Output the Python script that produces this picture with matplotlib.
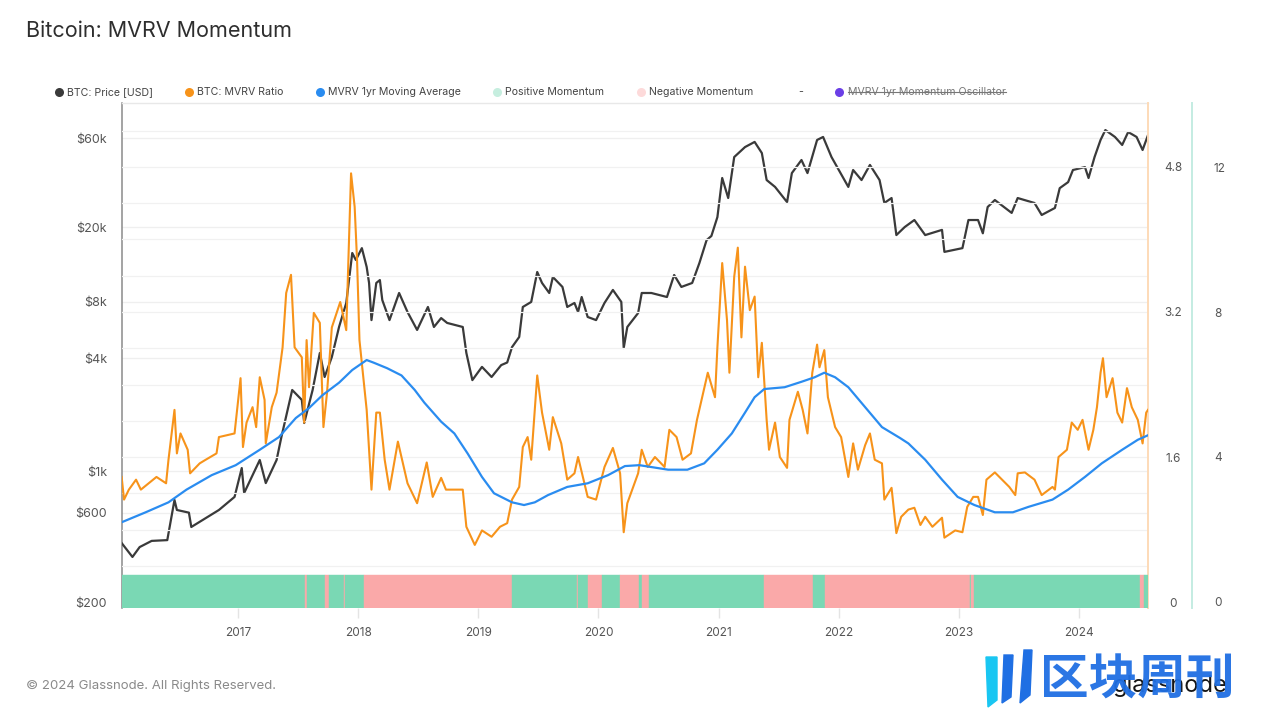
import matplotlib.pyplot as plt
from matplotlib.lines import Line2D
from matplotlib.patches import Polygon
from matplotlib.ticker import MultipleLocator, NullLocator

plt.rcParams['font.family'] = ['Inter', 'DejaVu Sans']

# --- data (x = decimal year) ---
price_t = [2016.03, 2016.12, 2016.18, 2016.28, 2016.41, 2016.47, 2016.49, 2016.59, 2016.61, 2016.73,
           2016.84, 2016.97, 2017.03, 2017.05, 2017.18, 2017.23, 2017.32, 2017.36, 2017.45, 2017.53,
           2017.55, 2017.62, 2017.68, 2017.72, 2017.78, 2017.84, 2017.90, 2017.95, 2017.98, 2018.03,
           2018.07, 2018.09, 2018.11, 2018.15, 2018.18, 2018.20, 2018.26, 2018.34, 2018.41, 2018.49,
           2018.58, 2018.63, 2018.69, 2018.74, 2018.87, 2018.90, 2018.95, 2019.03, 2019.11, 2019.19,
           2019.24, 2019.28, 2019.34, 2019.37, 2019.44, 2019.49, 2019.53, 2019.59, 2019.62, 2019.70,
           2019.74, 2019.80, 2019.83, 2019.86, 2019.91, 2019.98, 2020.05, 2020.12, 2020.19, 2020.21,
           2020.24, 2020.33, 2020.36, 2020.44, 2020.57, 2020.63, 2020.69, 2020.78, 2020.84, 2020.90,
           2020.94, 2020.99, 2021.03, 2021.08, 2021.13, 2021.22, 2021.30, 2021.36, 2021.40, 2021.47,
           2021.57, 2021.61, 2021.69, 2021.74, 2021.82, 2021.87, 2021.94, 2022.08, 2022.12, 2022.19,
           2022.26, 2022.34, 2022.38, 2022.44, 2022.48, 2022.55, 2022.63, 2022.72, 2022.86, 2022.88,
           2023.03, 2023.08, 2023.16, 2023.20, 2023.24, 2023.30, 2023.44, 2023.49, 2023.63, 2023.69,
           2023.80, 2023.84, 2023.91, 2023.95, 2024.05, 2024.08, 2024.13, 2024.18, 2024.22, 2024.30,
           2024.36, 2024.41, 2024.48, 2024.53, 2024.575]
price = [413, 348, 393, 424, 428, 701, 620, 600, 503, 561,
         620, 728, 1038, 764, 1146, 863, 1146, 1520, 2710, 2400,
         1806, 2710, 4270, 3180, 4065, 5880, 7900, 14600, 13400, 15500,
         12300, 10100, 6400, 10100, 10470, 8190, 6400, 8930, 7070, 5670,
         7520, 5880, 6560, 6180, 5880, 4270, 3060, 3600, 3180, 3680,
         3800, 4590, 5200, 7520, 8000, 11560, 10100, 8930, 10870, 9620,
         7520, 7900, 7070, 8500, 6650, 6400, 7900, 9270, 8000, 4540,
         5880, 6980, 8930, 8930, 8500, 11140, 9620, 10100, 12900, 17100,
         18000, 22700, 36700, 28700, 47500, 53700, 57200, 49900, 35800, 32900,
         27300, 39000, 45800, 39000, 58600, 60800, 47500, 32900, 40500, 35800,
         43100, 35800, 27000, 28700, 18200, 20100, 21900, 18200, 19400, 14800,
         15500, 21900, 21900, 18600, 25700, 28000, 23900, 28700, 27000, 23300,
         25400, 32400, 34900, 40500, 42000, 36700, 47500, 58600, 66200, 60800,
         55100, 64600, 60800, 51800, 62200]

mvrv_t = [2016.03, 2016.05, 2016.09, 2016.15, 2016.19, 2016.32, 2016.40, 2016.42, 2016.47, 2016.49,
          2016.52, 2016.58, 2016.60, 2016.68, 2016.73, 2016.82, 2016.84, 2016.97, 2017.02, 2017.04,
          2017.07, 2017.12, 2017.15, 2017.18, 2017.22, 2017.23, 2017.28, 2017.32, 2017.37, 2017.40,
          2017.44, 2017.47, 2017.53, 2017.55, 2017.57, 2017.59, 2017.63, 2017.68, 2017.71, 2017.74,
          2017.78, 2017.85, 2017.90, 2017.94, 2017.97, 2017.99, 2018.01, 2018.07, 2018.11, 2018.15,
          2018.18, 2018.22, 2018.26, 2018.33, 2018.41, 2018.49, 2018.57, 2018.62, 2018.69, 2018.73,
          2018.87, 2018.90, 2018.97, 2019.03, 2019.11, 2019.18, 2019.24, 2019.28, 2019.34, 2019.37,
          2019.41, 2019.44, 2019.49, 2019.53, 2019.59, 2019.62, 2019.69, 2019.74, 2019.80, 2019.83,
          2019.91, 2019.98, 2020.05, 2020.12, 2020.18, 2020.21, 2020.24, 2020.33, 2020.36, 2020.41,
          2020.47, 2020.55, 2020.59, 2020.65, 2020.70, 2020.77, 2020.82, 2020.91, 2020.97, 2020.99,
          2021.03, 2021.07, 2021.09, 2021.13, 2021.16, 2021.19, 2021.22, 2021.26, 2021.30, 2021.33,
          2021.36, 2021.40, 2021.42, 2021.47, 2021.51, 2021.57, 2021.59, 2021.66, 2021.70, 2021.74,
          2021.78, 2021.82, 2021.84, 2021.88, 2021.91, 2021.97, 2022.02, 2022.08, 2022.12, 2022.16,
          2022.22, 2022.26, 2022.30, 2022.36, 2022.38, 2022.44, 2022.48, 2022.52, 2022.58, 2022.63,
          2022.68, 2022.72, 2022.78, 2022.86, 2022.88, 2022.97, 2023.03, 2023.07, 2023.12, 2023.16,
          2023.20, 2023.23, 2023.30, 2023.36, 2023.42, 2023.47, 2023.49, 2023.55, 2023.63, 2023.69,
          2023.78, 2023.80, 2023.83, 2023.90, 2023.94, 2023.99, 2024.03, 2024.08, 2024.12, 2024.15,
          2024.18, 2024.20, 2024.23, 2024.28, 2024.32, 2024.36, 2024.40, 2024.44, 2024.49, 2024.53,
          2024.56, 2024.575]
mvrv = [1.38, 1.13, 1.24, 1.35, 1.24, 1.38, 1.31, 1.57, 2.12, 1.64,
        1.86, 1.68, 1.42, 1.53, 1.57, 1.64, 1.82, 1.86, 2.47, 1.71,
        1.98, 2.15, 1.93, 2.48, 2.23, 1.75, 2.15, 2.31, 2.81, 3.41,
        3.61, 2.81, 2.70, 1.98, 2.89, 2.37, 3.19, 3.08, 1.93, 2.31,
        3.03, 3.31, 3.00, 4.73, 4.36, 3.77, 2.89, 2.12, 1.24, 2.09,
        2.09, 1.57, 1.24, 1.77, 1.31, 1.09, 1.54, 1.16, 1.37, 1.24,
        1.24, 0.83, 0.63, 0.79, 0.72, 0.83, 0.87, 1.13, 1.27, 1.71,
        1.82, 1.57, 2.50, 2.09, 1.68, 2.04, 1.75, 1.35, 1.42, 1.60,
        1.16, 1.13, 1.49, 1.70, 1.42, 0.77, 1.09, 1.42, 1.68, 1.49,
        1.60, 1.49, 1.90, 1.82, 1.57, 1.64, 2.01, 2.53, 2.26, 2.81,
        3.74, 3.11, 2.53, 3.59, 3.91, 2.92, 3.70, 3.22, 3.37, 2.48,
        2.86, 2.01, 1.68, 1.98, 1.60, 1.48, 2.01, 2.32, 2.12, 1.86,
        2.53, 2.84, 2.59, 2.78, 2.26, 1.93, 1.82, 1.38, 1.75, 1.46,
        1.73, 1.86, 1.57, 1.53, 1.13, 1.26, 0.76, 0.94, 1.02, 1.04,
        0.85, 0.94, 0.83, 0.93, 0.71, 0.79, 0.77, 1.05, 1.16, 1.16,
        0.96, 1.35, 1.43, 1.35, 1.27, 1.18, 1.42, 1.43, 1.35, 1.18,
        1.27, 1.24, 1.60, 1.68, 1.98, 1.90, 2.01, 1.68, 1.90, 2.15,
        2.53, 2.69, 2.26, 2.47, 2.09, 1.98, 2.36, 2.15, 2.01, 1.75,
        2.09, 2.12]

ma_t = [2016.03, 2016.23, 2016.42, 2016.57, 2016.78, 2016.98, 2017.18, 2017.34, 2017.48, 2017.59,
        2017.70, 2017.84, 2017.95, 2018.07, 2018.13, 2018.24, 2018.36, 2018.47, 2018.55, 2018.69,
        2018.80, 2018.91, 2019.03, 2019.13, 2019.28, 2019.38, 2019.47, 2019.58, 2019.74, 2019.91,
        2020.08, 2020.22, 2020.34, 2020.58, 2020.74, 2020.88, 2020.99, 2021.11, 2021.22, 2021.30,
        2021.38, 2021.55, 2021.69, 2021.80, 2021.88, 2021.97, 2022.08, 2022.22, 2022.36, 2022.51,
        2022.58, 2022.72, 2022.86, 2022.99, 2023.13, 2023.30, 2023.45, 2023.58, 2023.78, 2023.91,
        2024.05, 2024.19, 2024.36, 2024.49, 2024.575]
mvrv_ma = [0.88, 0.99, 1.10, 1.24, 1.40, 1.51, 1.68, 1.82, 2.03, 2.14,
           2.28, 2.42, 2.56, 2.67, 2.64, 2.58, 2.50, 2.34, 2.20, 1.99,
           1.86, 1.64, 1.38, 1.20, 1.10, 1.07, 1.10, 1.18, 1.27, 1.31,
           1.40, 1.50, 1.51, 1.46, 1.46, 1.53, 1.68, 1.86, 2.09, 2.26,
           2.35, 2.37, 2.43, 2.48, 2.53, 2.48, 2.37, 2.15, 1.93, 1.81,
           1.75, 1.57, 1.35, 1.16, 1.07, 0.99, 0.99, 1.05, 1.13, 1.24,
           1.38, 1.53, 1.68, 1.79, 1.84]

# momentum regimes: edges and state of each span
mom_edges = [2016.033, 2017.56, 2017.57, 2017.72, 2017.76, 2017.88, 2017.89, 2018.05, 2019.28,
             2019.82, 2019.83, 2019.91, 2020.03, 2020.175, 2020.34, 2020.36, 2020.42, 2021.38,
             2021.79, 2021.89, 2023.09, 2023.10, 2023.13, 2024.51, 2024.54, 2024.575]
mom_state = ['pos', 'neg', 'pos', 'neg', 'pos', 'neg', 'pos', 'neg', 'pos', 'neg', 'pos', 'neg',
             'pos', 'neg', 'pos', 'neg', 'pos', 'neg', 'pos', 'neg', 'pos', 'neg', 'pos', 'neg', 'pos']

years = [2017, 2018, 2019, 2020, 2021, 2022, 2023, 2024]
price_ticks = [200, 600, 1000, 4000, 8000, 20000, 60000]
price_labels = ['$200', '$600', '$1k', '$4k', '$8k', '$20k', '$60k']
mvrv_ticks = [0, 1.6, 3.2, 4.8]
osc_ticks = [0, 4, 8, 12]

# --- figure ---
W, H = 1273, 715
fig = plt.figure(figsize=(W / 100, H / 100), dpi=100)


def fx(x):
    return x / W


def fy(y):
    return 1 - y / H


ax = fig.add_axes([fx(122), fy(608), (1148 - 122) / W, (608 - 103) / H])
ax2 = ax.twinx()
ax3 = ax.twinx()

label_color = '#555555'

# price (log axis)
ax.plot(price_t, price, color='#3a3a3a', lw=1.6, zorder=3)
ax.set_yscale('log')
ax.set_ylim(185.8, 92300)
ax.set_xlim(2016.033, 2024.575)
ax.set_yticks(price_ticks)
ax.set_yticklabels(price_labels)
ax.yaxis.set_minor_locator(NullLocator())
ax.tick_params(axis='y', length=0, pad=10.8, labelsize=9, labelcolor=label_color)
ax.set_xticks(years)
ax.set_xticklabels([str(y) for y in years])
ax.tick_params(axis='x', length=7, width=1, color='#e4e4e4', pad=7, labelsize=8.5,
               labelcolor=label_color)
ax.grid(axis='y', color='#efefef', lw=0.9)
ax.set_axisbelow(True)
for s in ['bottom', 'right']:
    ax.spines[s].set_visible(False)
ax.spines['left'].set_color('#8a8a8a')
ax.spines['left'].set_linewidth(1.1)
ax.spines['top'].set_color('#e8e8e8')
ax.spines['top'].set_linewidth(1.0)

# MVRV ratio + moving average
ax2.plot(mvrv_t, mvrv, color='#f7931a', lw=1.5, zorder=3)
ax2.plot(ma_t, mvrv_ma, color='#2a8cf0', lw=1.6, zorder=4)
ax2.set_ylim(-0.066, 5.506)
ax2.set_yticks(mvrv_ticks)
ax2.set_yticklabels(['0', '1.6', '3.2', '4.8'])
ax2.yaxis.set_minor_locator(MultipleLocator(0.4))
ax2.grid(axis='y', which='both', color='#f1f1f1', lw=0.9, zorder=0)
ax2.tick_params(axis='y', which='both', length=0, pad=18, labelsize=8.5, labelcolor=label_color)
for lbl in ax2.get_yticklabels():
    lbl.set_horizontalalignment('center')
for s in ['left', 'top', 'bottom']:
    ax2.spines[s].set_visible(False)
ax2.spines['right'].set_color('#fddbb8')
ax2.spines['right'].set_linewidth(1.4)

# momentum oscillator axis with regime bars
ax3.set_ylim(-0.166, 13.766)
bar_bottom = -0.166
bar_top = 0.745
colors = {'pos': '#7ad8b4', 'neg': '#faa9a9'}
starts = mom_edges[:-1]
widths = [b - a for a, b in zip(mom_edges[:-1], mom_edges[1:])]
ax3.bar(starts, [bar_top - bar_bottom] * len(starts), width=widths, bottom=bar_bottom,
        align='edge', color=[colors[s] for s in mom_state],
        edgecolor=[colors[s] for s in mom_state], linewidth=0.3, zorder=2)
ax3.set_yticks(osc_ticks)
ax3.set_yticklabels([str(v) for v in osc_ticks])
ax3.tick_params(axis='y', length=0, pad=15.8, labelsize=8.5, labelcolor=label_color)
for lbl in ax3.get_yticklabels():
    lbl.set_horizontalalignment('center')
for s in ['left', 'top', 'bottom']:
    ax3.spines[s].set_visible(False)
ax3.spines['right'].set_position(('axes', 1 + 44 / 1026))
ax3.spines['right'].set_color('#c4ece2')
ax3.spines['right'].set_linewidth(1.4)

# --- title, legend, footer ---
fig.text(fx(26), fy(31), 'Bitcoin: MVRV Momentum', fontsize=15.5, color='#2e2e2e',
         va='center', ha='left')

legend_items = [
    (59, 'BTC: Price [USD]', '#3a3a3a'),
    (189, 'BTC: MVRV Ratio', '#f7931a'),
    (320, 'MVRV 1yr Moving Average', '#2a8cf0'),
    (497, 'Positive Momentum', '#c6eedf'),
    (641, 'Negative Momentum', '#fddada'),
]
ly = fy(92)
for xd, lab, col in legend_items:
    fig.add_artist(Line2D([fx(xd)], [ly], marker='o', markersize=6.5, color=col,
                          markeredgewidth=0, transform=fig.transFigure))
    fig.text(fx(xd + 8), ly, lab, fontsize=7.6, color='#444444', va='center', ha='left')
fig.text(fx(801), ly, '-', fontsize=7.6, color='#444444', va='center', ha='center')
fig.add_artist(Line2D([fx(839)], [ly], marker='o', markersize=6.5, color='#6b3fe6',
                      markeredgewidth=0, transform=fig.transFigure))
osc_txt = fig.text(fx(848), ly, 'MVRV 1yr Momentum Oscillator', fontsize=7.6,
                   color='#777777', va='center', ha='left')
fig.canvas.draw()
bb = osc_txt.get_window_extent(renderer=fig.canvas.get_renderer())
fig.add_artist(Line2D([bb.x0 / W, bb.x1 / W], [ly, ly], color='#777777', lw=0.8,
                      transform=fig.transFigure))

fig.text(fx(26), fy(686), '\u00a9 2024 Glassnode. All Rights Reserved.', fontsize=9.5,
         color='#8a8a8a', va='center', ha='left')

# watermark
fig.text(fx(1113), fy(686), 'glassnode', fontsize=17, color='#151515', va='center', ha='left')
for pts, col in [
    ([(986, 657), (997, 657), (997, 700), (988, 707)], '#19c6f2'),
    ([(1004, 655), (1013, 655), (1011, 697), (1002, 703)], '#1f6fe3'),
    ([(1024, 650), (1032, 650), (1030, 695), (1020, 703)], '#1f6fe3'),
]:
    fig.add_artist(Polygon([(fx(a), fy(b)) for a, b in pts], closed=True, color=col,
                           transform=fig.transFigure))
fig.text(fx(1040), fy(680), '区块周刊', fontsize=35, color='#1f6fe3', va='center', ha='left',
         family=['Noto Sans CJK SC', 'DejaVu Sans'], fontweight='bold', alpha=0.95)

fig.savefig('out.png', dpi=100)
